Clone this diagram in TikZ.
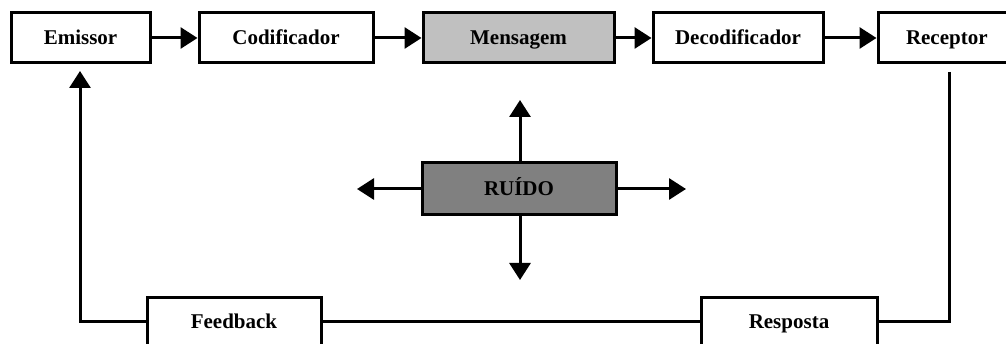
\documentclass[tikz,border=0pt]{standalone}
\usepackage{fontspec}
\setmainfont{Liberation Serif}
\usetikzlibrary{arrows.meta}
\definecolor{msggray}{HTML}{C0C0C0}
\definecolor{noisegray}{HTML}{808080}
\tikzset{
  lbl/.style={font=\fontsize{21}{24}\selectfont\bfseries, text height=14pt, text depth=0pt},
  blk/.style={draw=black, line width=3pt, fill=white, inner sep=0pt, lbl},
  conn/.style={line width=3pt},
  arr/.style={line width=3pt, -{Triangle[length=17pt,width=21pt]}},
}
\begin{document}
\begin{tikzpicture}[x=1pt,y=-1pt]
\useasboundingbox (0,0) rectangle (1006,344);
\clip (0,0) rectangle (1006,344);
% top row
\node[blk, minimum width=139pt, minimum height=50pt] (emi) at (80.5,38) {Emissor};
\node[blk, minimum width=174pt, minimum height=50pt] (cod) at (286,38) {Codificador};
\node[blk, fill=msggray, minimum width=191pt, minimum height=50pt] (msg) at (518.5,38) {Mensagem};
\node[blk, minimum width=170pt, minimum height=50pt] (dec) at (738,38) {Decodificador};
\node[blk, minimum width=150pt, minimum height=50pt, text width=150pt, align=left] (rec) at (953,38) {\hspace*{28pt}Receptor};
% noise
\node[blk, fill=noisegray, minimum width=194pt, minimum height=52pt] (rui) at (519,189) {RUÍDO};
% bottom row
\node[blk, minimum width=174pt, minimum height=70pt] (fb) at (234,333) {};
\node[blk, minimum width=176pt, minimum height=70pt] (resp) at (789,333) {};
\node[lbl] (fbt) at (234,322) {Feedback};
\node[lbl] (respt) at (789,322) {Resposta};
% free ends
\coordinate (up) at (520,100);
\coordinate (dn) at (520,280);
\coordinate (lf) at (357,189);
\coordinate (rt) at (686,189);
\coordinate (emiin) at (80,71);
\coordinate (recout) at (949,72);
\coordinate (lcorner) at (80,322);
\coordinate (rcorner) at (949,322);
% arrows top
\draw[arr] (emi.east) -- (cod.west);
\draw[arr] (cod.east) -- (msg.west);
\draw[arr] (msg.east) -- (dec.west);
\draw[arr] (dec.east) -- (rec.west);
% noise arrows
\draw[arr] (rui.north -| up) -- (up);
\draw[arr] (rui.south -| dn) -- (dn);
\draw[arr] (rui.west) -- (lf);
\draw[arr] (rui.east) -- (rt);
% feedback loop
\draw[conn] (recout) -- (rcorner) -- (rcorner -| resp.east);
\draw[conn] (resp.west |- rcorner) -- (fb.east |- rcorner);
\draw[arr] (fb.west |- lcorner) -- (lcorner) -- (emiin);
\end{tikzpicture}
\end{document}
